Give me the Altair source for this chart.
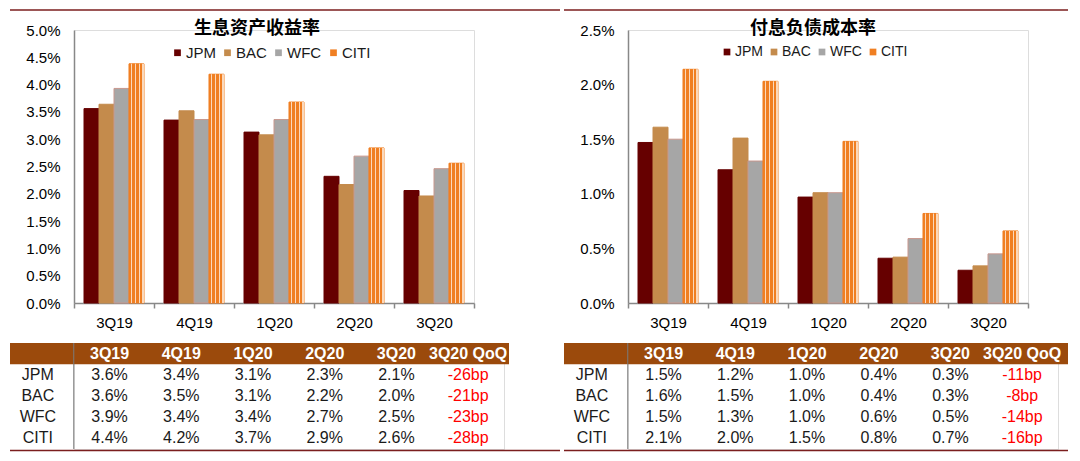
import altair as alt
import pandas as pd

quarters = ["3Q19", "4Q19", "1Q20", "2Q20", "3Q20"]
banks = ["JPM", "BAC", "WFC", "CITI"]

# bar heights in % (生息资产收益率)
yield_jpm = [3.56, 3.35, 3.13, 2.32, 2.06]
yield_bac = [3.64, 3.52, 3.08, 2.17, 1.96]
yield_wfc = [3.93, 3.36, 3.36, 2.69, 2.46]
yield_citi = [4.38, 4.19, 3.68, 2.84, 2.56]

# bar heights in % (付息负债成本率)
cost_jpm = [1.47, 1.22, 0.97, 0.41, 0.30]
cost_bac = [1.61, 1.51, 1.01, 0.42, 0.34]
cost_wfc = [1.50, 1.30, 1.01, 0.59, 0.45]
cost_citi = [2.14, 2.03, 1.48, 0.82, 0.66]

# axis tick values
yield_ticks = [0.0, 0.005, 0.01, 0.015, 0.02, 0.025, 0.03, 0.035, 0.04, 0.045, 0.05]
cost_ticks = [0.0, 0.005, 0.01, 0.015, 0.02, 0.025]

# table texts
table_headers = ["", "3Q19", "4Q19", "1Q20", "2Q20", "3Q20", "3Q20 QoQ"]
yield_tbl_jpm = ["3.6%", "3.4%", "3.1%", "2.3%", "2.1%"]
yield_tbl_bac = ["3.6%", "3.5%", "3.1%", "2.2%", "2.0%"]
yield_tbl_wfc = ["3.9%", "3.4%", "3.4%", "2.7%", "2.5%"]
yield_tbl_citi = ["4.4%", "4.2%", "3.7%", "2.9%", "2.6%"]
yield_qoq = ["-26bp", "-21bp", "-23bp", "-28bp"]

cost_tbl_jpm = ["1.5%", "1.2%", "1.0%", "0.4%", "0.3%"]
cost_tbl_bac = ["1.6%", "1.5%", "1.0%", "0.4%", "0.3%"]
cost_tbl_wfc = ["1.5%", "1.3%", "1.0%", "0.6%", "0.5%"]
cost_tbl_citi = ["2.1%", "2.0%", "1.5%", "0.8%", "0.7%"]
cost_qoq = ["-11bp", "-8bp", "-14bp", "-16bp"]

FILLS = ["#660000", "#C48B4C", "#A6A6A6", "#F07F22"]
STROKES = ["#660000", "#C48B4C", "#C8978D", "#F07F22"]
HDR = "#9B4A0C"
LINE = "#7B1E1E"
FONT = "Liberation Sans"
CJK = "Noto Sans CJK SC"
TXT = "#1a1a1a"

ORANGE = "#F07F22"
LIGHT = "#FBD9BC"
stops = []
for k in range(4):
    b = k * 0.25
    stops += [
        alt.GradientStop(color=ORANGE, offset=b),
        alt.GradientStop(color=ORANGE, offset=b + 0.15),
        alt.GradientStop(color=LIGHT, offset=b + 0.15),
        alt.GradientStop(color=LIGHT, offset=b + 0.23),
        alt.GradientStop(color=ORANGE, offset=b + 0.23),
    ]
citi_grad = alt.LinearGradient(gradient="linear", stops=stops, x1=0, x2=1, y1=0, y2=0)

one = pd.DataFrame({"a": [0]})


def bar_chart(series, title, ymax, ticks, legend_x, legend_fs, title_x, line_end):
    recs = []
    for b, vals in zip(banks, series):
        for q, v in zip(quarters, vals):
            recs.append({"q": q, "bank": b, "v": v / 100.0})
    df = pd.DataFrame(recs)
    x = alt.X(
        "q:N",
        sort=quarters,
        scale=alt.Scale(domain=quarters, paddingInner=0, paddingOuter=0),
        axis=alt.Axis(
            title=None, labelAngle=0, tickBand="extent", tickSize=5,
            labelFontSize=15, labelPadding=7, domainWidth=1.5, tickWidth=1.5,
        ),
    )
    xo = alt.XOffset(
        "bank:N", sort=banks,
        scale=alt.Scale(domain=banks, paddingInner=0, paddingOuter=0.667),
    )
    y = alt.Y(
        "v:Q",
        scale=alt.Scale(domain=[0, ymax], nice=False),
        axis=alt.Axis(
            title=None, format=".1%", values=ticks, ticks=False, grid=False,
            labelPadding=14, minExtent=63, maxExtent=63, labelFontSize=15,
            domainWidth=1.5,
        ),
    )
    bars = alt.Chart(df).mark_bar(strokeWidth=1).encode(
        x=x, xOffset=xo, y=y,
        color=alt.Color(
            "bank:N", sort=banks,
            scale=alt.Scale(domain=banks, range=FILLS),
            legend=alt.Legend(
                title=None, orient="none", direction="horizontal",
                legendX=legend_x, legendY=15, symbolType="square",
                symbolSize=45, labelFontSize=legend_fs, labelFont=FONT,
                labelColor=TXT, labelOffset=1, columnPadding=4,
                symbolStrokeWidth=0,
            ),
        ),
        stroke=alt.Stroke(
            "bank:N", sort=banks,
            scale=alt.Scale(domain=banks, range=STROKES), legend=None,
        ),
    )
    citi = alt.Chart(df).transform_filter("datum.bank == 'CITI'").mark_bar(
        fill=citi_grad, strokeWidth=0
    ).encode(x=x, xOffset=xo, y=y)
    ttl = alt.Chart(one).mark_text(
        text=title, font=CJK, fontSize=18, fontWeight="bold", color="#000000",
        baseline="middle", align="center",
    ).encode(x=alt.value(title_x), y=alt.value(-1.5))
    top_line = alt.Chart(one).mark_rule(color=LINE, strokeWidth=1.5).encode(
        x=alt.value(-64), x2=alt.value(line_end), y=alt.value(-20)
    )
    return alt.layer(bars, citi, ttl, top_line).properties(width=400, height=273)


colkeys = ["c0", "c1", "c2", "c3", "c4", "c5", "c6"]
rowkeys = ["hdr"] + banks


def table_chart(rows, qoq, band_end, line_end):
    recs = []
    for i, h in enumerate(table_headers):
        recs.append({"col": colkeys[i], "row": "hdr", "text": h, "kind": "head"})
    for b, vals, q in zip(banks, rows, qoq):
        recs.append({"col": colkeys[0], "row": b, "text": b, "kind": "label"})
        for k, v in enumerate(vals):
            recs.append({"col": colkeys[k + 1], "row": b, "text": v, "kind": "val"})
        recs.append({"col": colkeys[6], "row": b, "text": q, "kind": "qoq"})
    df = pd.DataFrame(recs)
    base = alt.Chart(df)
    xs = alt.Scale(domain=colkeys, range=[-72, 430], paddingInner=0, paddingOuter=0)
    ys = alt.Scale(domain=rowkeys, paddingInner=0, paddingOuter=0)
    xenc = alt.X("col:N", scale=xs, axis=None)
    yenc = alt.Y("row:N", scale=ys, axis=None)
    band = base.transform_filter("datum.kind == 'head' && datum.col == 'c0'").mark_rect(
        color=HDR
    ).encode(x=alt.value(-64), x2=alt.value(band_end), y=yenc)
    sep = base.transform_filter("datum.kind == 'head' && datum.col == 'c1'").mark_rule(
        color="#7a7a7a", strokeWidth=1.2, opacity=0.85
    ).encode(x=alt.X("col:N", scale=xs, axis=None, bandPosition=0))
    head = base.transform_filter("datum.kind == 'head'").mark_text(
        font=FONT, fontSize=16, fontWeight="bold", color="white"
    ).encode(x=xenc, y=yenc, text="text:N")
    body = base.transform_filter("datum.kind == 'label' || datum.kind == 'val'").mark_text(
        font=FONT, fontSize=16, color=TXT
    ).encode(x=xenc, y=yenc, text="text:N")
    red = base.transform_filter("datum.kind == 'qoq'").mark_text(
        font=FONT, fontSize=16, color="#FF0000"
    ).encode(x=xenc, y=yenc, text="text:N")
    bottom_line = alt.Chart(one).mark_rule(color=LINE, strokeWidth=1.5).encode(
        x=alt.value(-64), x2=alt.value(line_end), y=alt.value(107.5)
    )
    return alt.layer(band, head, body, red, sep, bottom_line).properties(width=430, height=106)


left = alt.vconcat(
    bar_chart([yield_jpm, yield_bac, yield_wfc, yield_citi], "生息资产收益率",
              0.05, yield_ticks, 96, 15, 183, 486),
    table_chart([yield_tbl_jpm, yield_tbl_bac, yield_tbl_wfc, yield_tbl_citi], yield_qoq, 435, 486),
    spacing=10,
)
right = alt.vconcat(
    bar_chart([cost_jpm, cost_bac, cost_wfc, cost_citi], "付息负债成本率",
              0.025, cost_ticks, 92, 14, 185, 440),
    table_chart([cost_tbl_jpm, cost_tbl_bac, cost_tbl_wfc, cost_tbl_citi], cost_qoq, 440, 440),
    spacing=10,
)

chart = alt.hconcat(left, right, spacing=0).resolve_scale(
    color="independent", stroke="independent"
).resolve_legend(color="independent").properties(
    padding={"left": 0, "top": 0, "right": 0, "bottom": 0}
).configure_view(strokeWidth=0).configure_axis(
    labelFont=FONT, labelColor=TXT, domainColor="#868686", tickColor="#868686"
).configure(background="white", font=FONT)

chart.save("out.html", embed_options={"renderer": "svg", "actions": False})
